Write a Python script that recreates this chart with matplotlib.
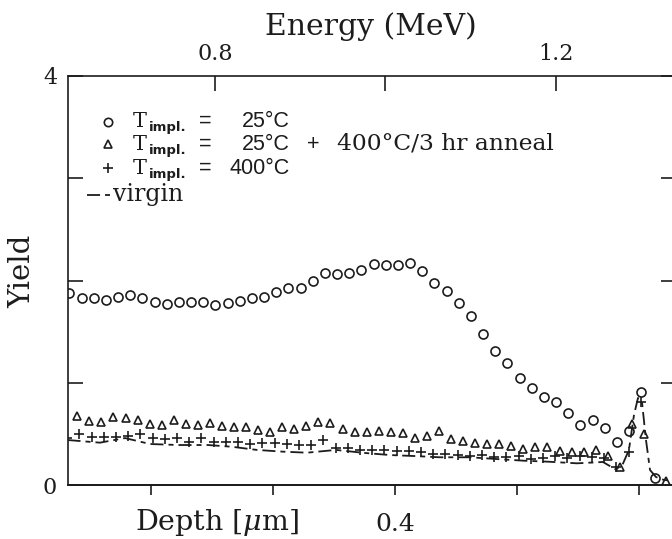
import numpy as np
import matplotlib.pyplot as plt
from matplotlib.lines import Line2D

plt.rcParams['font.family'] = 'DejaVu Serif'
plt.rcParams['mathtext.fontset'] = 'dejavuserif'
plt.rcParams['lines.scale_dashes'] = False

W, H = 672, 539
INK = '#1c1c1c'

# channel energies (MeV) for each implant condition
e_rt = np.linspace(0.6293, 1.3000, 48)
e_anneal = np.linspace(0.6385, 1.3032, 48)
e_hot = np.linspace(0.6267, 1.2994, 48)

# T_impl = 25 C
y_rt = [1.880, 1.826, 1.826, 1.809, 1.842, 1.859, 1.826, 1.786, 1.770, 1.792,
        1.792, 1.792, 1.764, 1.777, 1.802, 1.832, 1.842, 1.890, 1.924, 1.924,
        1.998, 2.076, 2.064, 2.071, 2.099, 2.162, 2.155, 2.155, 2.169, 2.093,
        1.978, 1.897, 1.777, 1.653, 1.473, 1.313, 1.190, 1.044, 0.946, 0.863,
        0.809, 0.701, 0.590, 0.636, 0.560, 0.424, 0.525, 0.907]
# T_impl = 25 C + 400 C / 3 hr anneal
y_anneal = [0.674, 0.629, 0.619, 0.668, 0.653, 0.636, 0.596, 0.587, 0.636, 0.596,
            0.587, 0.603, 0.577, 0.570, 0.570, 0.538, 0.515, 0.570, 0.545, 0.580,
            0.619, 0.603, 0.548, 0.521, 0.521, 0.533, 0.515, 0.509, 0.462, 0.479,
            0.531, 0.450, 0.431, 0.414, 0.398, 0.398, 0.384, 0.350, 0.368, 0.368,
            0.333, 0.326, 0.326, 0.343, 0.283, 0.179, 0.596, 0.496]
# T_impl = 400 C
y_hot = [0.456, 0.496, 0.472, 0.472, 0.472, 0.482, 0.496, 0.456, 0.450, 0.456,
         0.424, 0.456, 0.418, 0.418, 0.418, 0.401, 0.408, 0.408, 0.401, 0.391,
         0.391, 0.440, 0.358, 0.358, 0.338, 0.338, 0.343, 0.333, 0.333, 0.326,
         0.303, 0.303, 0.293, 0.286, 0.293, 0.277, 0.277, 0.286, 0.254, 0.261,
         0.286, 0.261, 0.283, 0.277, 0.261, 0.179, 0.326, 0.815]

# points past the surface edge
e_rt_tail, y_rt_tail = [1.316], [0.07]
e_anneal_tail, y_anneal_tail = [1.329], [0.04]

# virgin (unimplanted) spectrum
e_virgin = [0.627, 0.6651, 0.6944, 0.7238, 0.7566, 0.7918, 0.8199, 0.8493,
            0.8798, 0.9079, 0.9419, 0.9760, 1.0053, 1.0346, 1.0639, 1.0991,
            1.1343, 1.1613, 1.1906, 1.2246, 1.2551, 1.2692, 1.2774, 1.2856,
            1.2915, 1.2962, 1.3009, 1.3056, 1.3103, 1.3173, 1.3267, 1.3408]
y_virgin = [0.440, 0.414, 0.459, 0.401, 0.391, 0.391, 0.374, 0.343,
            0.326, 0.316, 0.343, 0.313, 0.293, 0.283, 0.271, 0.271,
            0.252, 0.238, 0.228, 0.212, 0.225, 0.156, 0.186, 0.343,
            0.684, 0.851, 0.812, 0.440, 0.147, 0.078, 0.049, 0.040]

energy_ticks = [0.8, 1.0, 1.2]
energy_labels = ['0.8', '', '1.2']
depth_ticks = [0.0, 0.2, 0.4, 0.6, 0.8]
depth_labels = ['', '', '0.4', '', '']
yield_ticks = [0, 1, 2, 3, 4]
yield_labels = ['0', '', '', '', '4']

# depth scale: surface edge energy and stopping factor (um per MeV)
E_SURF, K = 1.2976, 1.3964


def e2d(e):
    return (E_SURF - np.asarray(e)) * K


def d2e(d):
    return E_SURF - np.asarray(d) / K


def fx(x):
    return x / W


def fy(y):
    return 1 - y / H


fig = plt.figure(figsize=(W / 100, H / 100), dpi=100)
ax = fig.add_axes([fx(67.5), fy(485), (676 - 67.5) / W, (485 - 76) / H])

dash = (9.4, 3.6, 3.6, 3.6)
ax.plot(e_virgin, y_virgin, color=INK, lw=1.3, dashes=dash)
mk = dict(ls='none', color=INK, mfc='none', mew=1.2)
ax.plot(list(e_rt) + e_rt_tail, y_rt + y_rt_tail, marker='o', ms=6.5, **mk)
ax.plot(list(e_anneal) + e_anneal_tail, y_anneal + y_anneal_tail, marker='^', ms=6, **mk)
ax.plot(e_hot, y_hot, marker='+', ms=6.5, **mk)

ax.set_xlim(0.627, 1.3408)
ax.set_ylim(0, 4)
for s in ax.spines.values():
    s.set_linewidth(1.2)
    s.set_color(INK)

ax.xaxis.set_ticks_position('top')
ax.set_xticks(energy_ticks)
ax.set_xticklabels(energy_labels)
ax.tick_params(axis='x', direction='in', length=10.8, width=1.2, colors=INK,
               top=True, bottom=False, labeltop=True, labelbottom=False,
               pad=8, labelsize=16)
ax.set_yticks(yield_ticks)
ax.set_yticklabels(yield_labels)
ax.tick_params(axis='y', direction='in', length=10.8, width=1.2, colors=INK,
               left=True, right=True, pad=7.5, labelsize=16)

sec = ax.secondary_xaxis('bottom', functions=(e2d, d2e))
sec.set_xticks(depth_ticks)
sec.set_xticklabels(depth_labels)
sec.tick_params(direction='out', length=7.2, width=1.2, colors=INK,
                pad=13, labelsize=18)
sec.spines['bottom'].set_linewidth(1.2)

fig.text(fx(371), fy(35), 'Energy (MeV)', ha='center', va='baseline',
         fontsize=21.5, color=INK)
fig.text(fx(135), fy(530), r'Depth [$\mu$m]', ha='left', va='baseline',
         fontsize=20.5, color=INK)
fig.text(fx(22), fy(271), 'Yield', rotation=90, ha='center', va='center',
         fontsize=21, color=INK)

# legend
rows = [('o', 6.0, 122, 127, '25°C'),
        ('^', 5.5, 144, 150, '25°C'),
        ('+', 6.5, 168, 174, '400°C')]
for m, size, ym, yb, val in rows:
    fig.add_artist(Line2D([fx(108)], [fy(ym)], marker=m, ms=size, ls='none',
                          color=INK, mfc='none', mew=1.2,
                          transform=fig.transFigure))
    fig.text(fx(133), fy(yb), 'T', fontsize=15, va='baseline', color=INK)
    fig.text(fx(149), fy(yb + 4), 'impl.', family='DejaVu Sans', weight='bold',
             fontsize=9.5, va='baseline', color=INK)
    fig.text(fx(205.5), fy(yb), '=', family='Liberation Sans', fontsize=15.5,
             ha='center', va='baseline', color=INK)
    fig.text(fx(290), fy(yb), val, family='Liberation Sans', fontsize=15.5,
             ha='right', va='baseline', color=INK)
fig.text(fx(313), fy(150), '+', family='Liberation Sans', fontsize=15.5,
         ha='center', va='baseline', color=INK)
fig.text(fx(337), fy(150), '400°C/3 hr anneal', fontsize=16.8,
         va='baseline', color=INK)
fig.add_artist(Line2D([fx(87), fx(110)], [fy(195), fy(195)], color=INK,
                      lw=1.3, dashes=dash, transform=fig.transFigure))
fig.text(fx(113), fy(200.7), 'virgin', fontsize=17, va='baseline', color=INK)

fig.savefig('out.png', dpi=100)
